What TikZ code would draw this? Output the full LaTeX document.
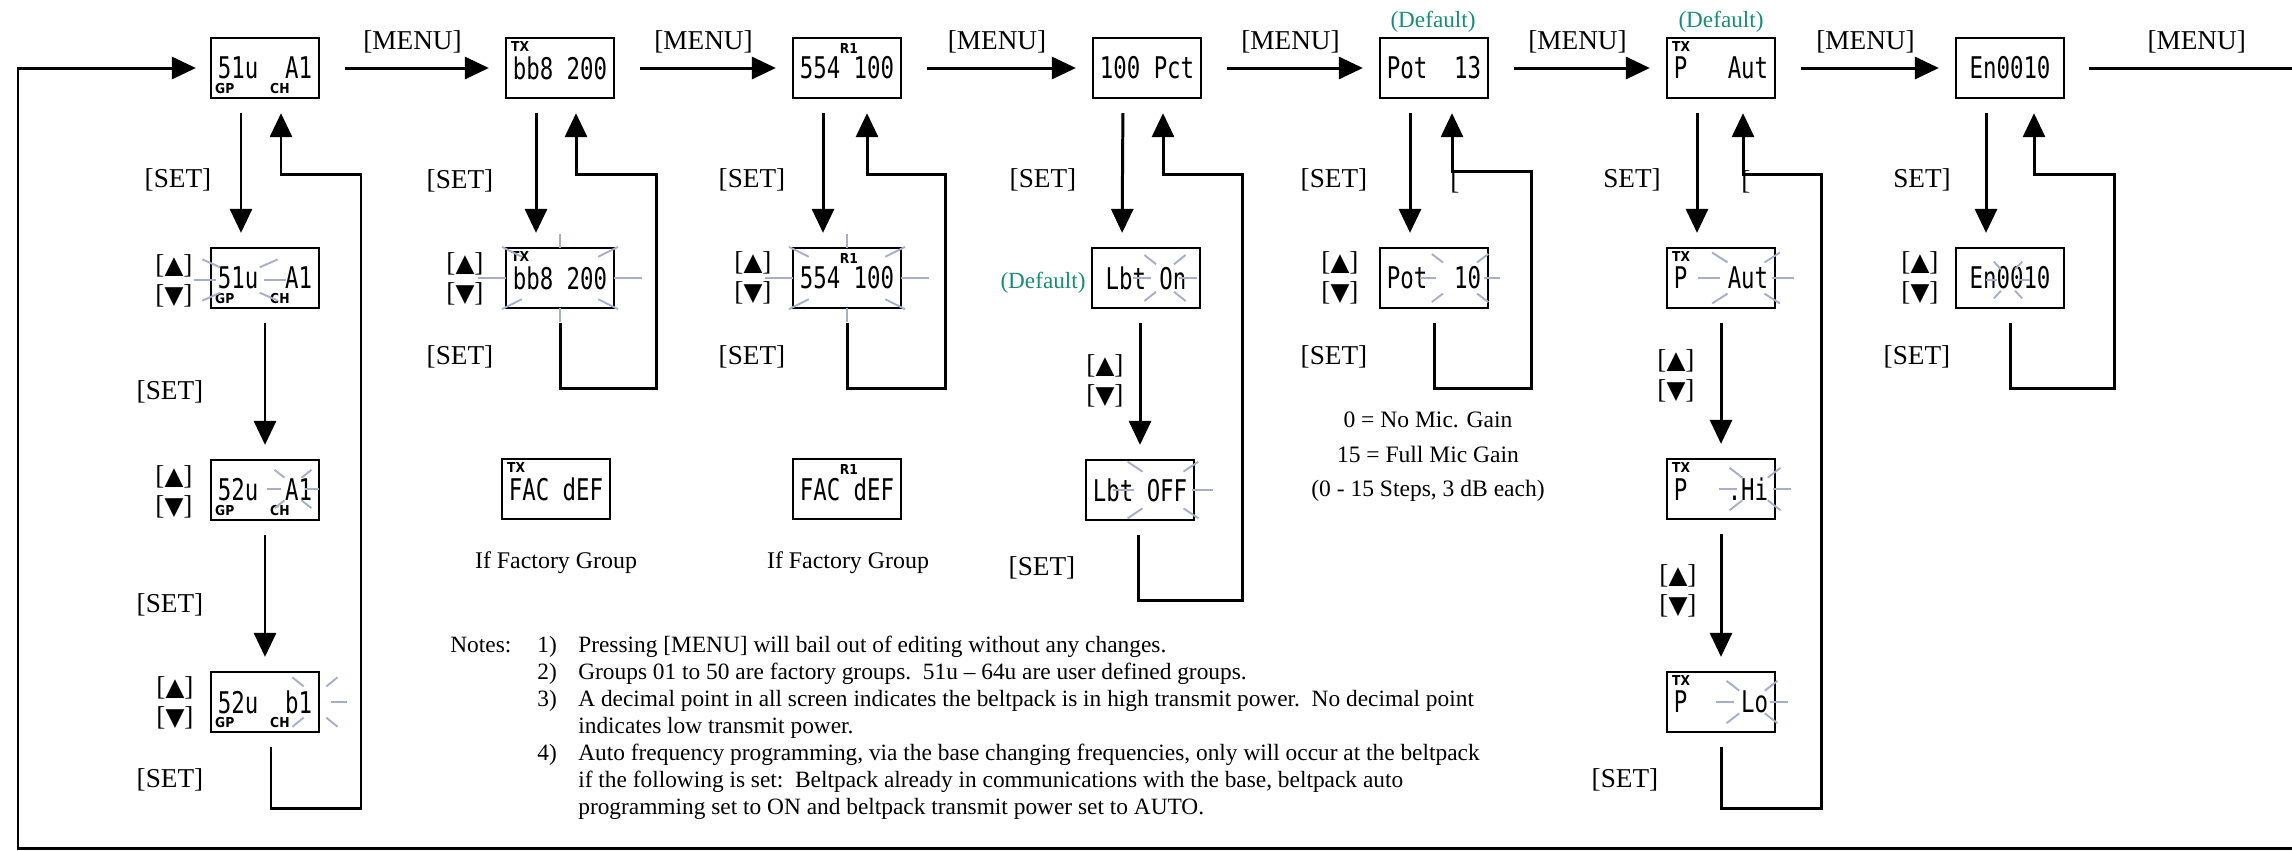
\documentclass[tikz,border=0pt]{standalone}
\usepackage{fontspec}
\setmainfont{Liberation Serif}
\newfontfamily\lcdfont[FakeStretch=0.75]{DejaVu Sans Mono}
\newfontfamily\lcdtagfont[FakeStretch=0.9]{DejaVu Sans}
\newfontfamily\arrowglyphs{DejaVu Sans}
\usepackage{tikz}
\usetikzlibrary{positioning,arrows.meta,calc}
\definecolor{defteal}{RGB}{25,140,120}
\definecolor{raygrey}{RGB}{165,176,200}
\newcommand\upk{{[}{\arrowglyphs\fontsize{14}{14}\selectfont ▲}{]}}
\newcommand\dnk{{[}{\arrowglyphs\fontsize{14}{14}\selectfont ▼}{]}}
\newcommand\flashrays[6]{%
  \foreach \a in {#6}{\draw[ray] ($#1+(\a:#2 and #3)$) -- ($#1+(\a:#4 and #5)$);}}

\begin{document}
\begin{tikzpicture}[x=0.02cm, y=-0.02cm,
    every node/.style={align=center},
    lcd/.style={draw, line width=1.3pt, minimum width=2.16cm, minimum height=1.2cm,
                inner sep=0pt, font=\lcdfont\fontsize{17}{17}\selectfont},
    lcdtag/.style={inner sep=0pt, font=\lcdtagfont\bfseries\fontsize{7.8}{8}\selectfont},
    wire/.style={line width=1.7pt},
    flow/.style={wire, -{Triangle[length=0.48cm,width=0.44cm]},
                 shorten <=0.28cm, shorten >=0.28cm},
    menuflow/.style={flow, shorten <=0.5cm, shorten >=0.32cm},
    menulbl/.style={above=0.26cm, inner sep=0pt, font=\fontsize{15.5}{18}\selectfont},
    btn/.style={inner sep=0pt, font=\fontsize{15.5}{18}\selectfont},
    updown/.style={inner sep=0pt, font=\fontsize{15.5}{17}\selectfont},
    dflt/.style={inner sep=0pt, text=defteal, font=\fontsize{13.2}{15}\selectfont},
    capt/.style={inner sep=0pt, font=\fontsize{13.6}{16}\selectfont},
    ray/.style={line width=1.1pt, raygrey}]
  \useasboundingbox (0,0) rectangle (2292,850);

  \node[lcd] (b1) at (265,68)  {51u\ \ A1};
  \node[lcd] (b2) at (560,68)  {bb8 200};
  \node[lcd] (b3) at (847,68)  {554 100};
  \node[lcd] (b4) at (1147,68) {100 Pct};
  \node[lcd] (b5) at (1434,68) {Pot\ \ 13};
  \node[lcd] (b6) at (1721,68) {P\ \ \ Aut};
  \node[lcd] (b7) at (2010,68) {En0010};

  \node[lcd] (c1) at (265,278)  {51u\ \ A1};
  \node[lcd] (c2) at (560,278)  {bb8 200};
  \node[lcd] (c3) at (847,278)  {554 100};
  \node[lcd] (c4) at (1146,278) {Lbt On};
  \node[lcd] (c5) at (1434,278) {Pot\ \ 10};
  \node[lcd] (c6) at (1721,278) {P\ \ \ Aut};
  \node[lcd] (c7) at (2010,278) {En0010};

  \node[lcd] (d1) at (265,490)  {52u\ \ A1};
  \node[lcd] (d2) at (556,489)  {FAC dEF};
  \node[lcd] (d3) at (847,489)  {FAC dEF};
  \node[lcd] (d4) at (1140,490) {Lbt OFF};
  \node[lcd] (d6) at (1721,489) {P\ \ \ .Hi};
  \node[lcd] (e1) at (265,702)  {52u\ \ b1};
  \node[lcd] (e6) at (1721,702) {P\ \ \ \ Lo};

  \node[lcdtag, anchor=south west] (b1gp) at ($(b1.south west)+(5,-5)$)  {GP};
  \node[lcdtag, anchor=south west] (b1ch) at ($(b1.south west)+(60,-5)$) {CH};
  \node[lcdtag, anchor=south west] (c1gp) at ($(c1.south west)+(5,-5)$)  {GP};
  \node[lcdtag, anchor=south west] (c1ch) at ($(c1.south west)+(60,-5)$) {CH};
  \node[lcdtag, anchor=south west] (d1gp) at ($(d1.south west)+(5,-5)$)  {GP};
  \node[lcdtag, anchor=south west] (d1ch) at ($(d1.south west)+(60,-5)$) {CH};
  \node[lcdtag, anchor=south west] (e1gp) at ($(e1.south west)+(5,-5)$)  {GP};
  \node[lcdtag, anchor=south west] (e1ch) at ($(e1.south west)+(60,-5)$) {CH};
  \node[lcdtag, anchor=north west] (b2tx) at ($(b2.north west)+(6,4)$) {TX};
  \node[lcdtag, anchor=north west] (c2tx) at ($(c2.north west)+(6,4)$) {TX};
  \node[lcdtag, anchor=north west] (d2tx) at ($(d2.north west)+(6,4)$) {TX};
  \node[lcdtag, anchor=north west] (b6tx) at ($(b6.north west)+(6,4)$) {TX};
  \node[lcdtag, anchor=north west] (c6tx) at ($(c6.north west)+(6,4)$) {TX};
  \node[lcdtag, anchor=north west] (d6tx) at ($(d6.north west)+(6,4)$) {TX};
  \node[lcdtag, anchor=north west] (e6tx) at ($(e6.north west)+(6,4)$) {TX};
  \node[lcdtag, anchor=north] (b3r1) at ($(b3.north)+(2,6)$) {R1};
  \node[lcdtag, anchor=north] (c3r1) at ($(c3.north)+(2,6)$) {R1};
  \node[lcdtag, anchor=north] (d3r1) at ($(d3.north)+(2,6)$) {R1};

  \coordinate (exitr) at (2292,68);
  \coordinate (exitb) at (2292,848);
  \coordinate (retbl) at (18,848);
  \coordinate (rettl) at (18,68);

  \draw[menuflow] (b1) -- node[menulbl]{[MENU]} (b2);
  \draw[menuflow] (b2) -- node[menulbl]{[MENU]} (b3);
  \draw[menuflow] (b3) -- node[menulbl]{[MENU]} (b4);
  \draw[menuflow] (b4) -- node[menulbl]{[MENU]} (b5);
  \draw[menuflow] (b5) -- node[menulbl]{[MENU]} (b6);
  \draw[menuflow] (b6) -- node[menulbl]{[MENU]} (b7);
  \draw[wire, shorten <=0.48cm] (b7) -- node[menulbl, pos=0.58]{[MENU]} (exitr);
  \draw[flow, shorten <=0pt] (exitb) -- (retbl) -- (rettl) -- (b1);

  \draw[flow] ($(b1.south)+(-24,0)$) -- ($(c1.north)+(-24,0)$);
  \draw[flow] ($(b2.south)+(-24,0)$) -- ($(c2.north)+(-24,0)$);
  \draw[flow] ($(b3.south)+(-24,0)$) -- ($(c3.north)+(-24,0)$);
  \draw[flow] ($(b4.south)+(-24,0)$) -- ($(c4.north)+(-24,0)$);
  \draw[flow] ($(b5.south)+(-24,0)$) -- ($(c5.north)+(-24,0)$);
  \draw[flow] ($(b6.south)+(-24,0)$) -- ($(c6.north)+(-24,0)$);
  \draw[flow] ($(b7.south)+(-24,0)$) -- ($(c7.north)+(-24,0)$);

  \draw[flow] (c1) -- (d1);
  \draw[flow] (d1) -- (e1);
  \draw[flow] (c4.south -| d4) -- (d4);
  \draw[flow] (c6) -- (d6);
  \draw[flow] (d6) -- (e6);

  \draw[flow] ($(e1.south)+(6,0)$) |- (361,808) |- ($(b1.south)+(16,75)$) -- ($(b1.south)+(16,0)$);
  \draw[flow] (c2.south) |- (656,388) |- ($(b2.south)+(16,75)$) -- ($(b2.south)+(16,0)$);
  \draw[flow] (c3.south) |- (945,388) |- ($(b3.south)+(20,75)$) -- ($(b3.south)+(20,0)$);
  \draw[flow] ($(d4.south)+(-2,0)$) |- (1242,600) |- ($(b4.south)+(16,75)$) -- ($(b4.south)+(16,0)$);
  \draw[flow] (c5.south) |- (1531,388) |- ($(b5.south)+(18,72)$) -- ($(b5.south)+(18,0)$);
  \draw[flow] (e6.south) |- (1821,808) |- ($(b6.south)+(22,75)$) -- ($(b6.south)+(22,0)$);
  \draw[flow] (c7.south) |- (2114,388) |- ($(b7.south)+(24,75)$) -- ($(b7.south)+(24,0)$);

  \flashrays{(c1)+(-25,2)}{24}{22}{46}{36}{0,35,145,180,215,325}
  \flashrays{(c2)}{54}{30}{82}{44}{0,45,...,315}
  \flashrays{(c3)}{54}{30}{82}{44}{0,45,...,315}
  \flashrays{(c4)+(19,0)}{14}{18}{32}{30}{0,50,130,180,230,310}
  \flashrays{(c5)+(26,0)}{24}{22}{40}{34}{0,45,135,180,225,315}
  \flashrays{(c6)+(25,0)}{26}{22}{48}{36}{0,45,135,180,225,315}
  \flashrays{(c7)+(-2,2)}{11}{14}{22}{24}{0,50,130,180,230,310}
  \flashrays{(d1)+(28,-1)}{12}{16}{26}{27}{0,45,135,180,225,315}
  \flashrays{(e1)+(50,0)}{16}{22}{32}{35}{0,45,135,225,315}
  \flashrays{(d4)+(23,0)}{29}{26}{50}{40}{0,45,135,180,225,315}
  \flashrays{(d6)+(34,0)}{18}{16}{36}{30}{0,45,135,180,225,315}
  \flashrays{(e6)+(31,0)}{18}{16}{36}{30}{0,45,135,180,225,315}

  \node[btn] (set1a) at (178,180)  {[SET]};
  \node[btn] (set1b) at (170,392)  {[SET]};
  \node[btn] (set1c) at (170,605)  {[SET]};
  \node[btn] (set1d) at (170,780)  {[SET]};
  \node[btn] (set2a) at (460,181)  {[SET]};
  \node[btn] (set2b) at (460,357)  {[SET]};
  \node[btn] (set3a) at (752,180)  {[SET]};
  \node[btn] (set3b) at (752,357)  {[SET]};
  \node[btn] (set4a) at (1043,180) {[SET]};
  \node[btn] (set4b) at (1042,568) {[SET]};
  \node[btn] (set5a) at (1334,180) {[SET]};
  \node[btn] (set5b) at (1334,357) {[SET]};
  \node[btn] (set6a) at (1632,180) {SET]};
  \node[btn] (set6b) at (1625,780) {[SET]};
  \node[btn] (set7a) at (1922,180) {SET]};
  \node[btn] (set7b) at (1917,357) {[SET]};
  \node[btn, anchor=west] (brk5) at (1450,182) {[};
  \node[btn, anchor=west] (brk6) at (1741,182) {[};

  \node[updown] (ud1a) at (174,281)  {\upk\\\dnk};
  \node[updown] (ud1b) at (174,492)  {\upk\\\dnk};
  \node[updown] (ud1c) at (175,703)  {\upk\\\dnk};
  \node[updown] (ud2)  at (465,279)  {\upk\\\dnk};
  \node[updown] (ud3)  at (753,278)  {\upk\\\dnk};
  \node[updown] (ud4)  at (1105,381) {\upk\\\dnk};
  \node[updown] (ud5)  at (1340,278) {\upk\\\dnk};
  \node[updown] (ud6a) at (1676,376) {\upk\\\dnk};
  \node[updown] (ud6b) at (1678,591) {\upk\\\dnk};
  \node[updown] (ud7)  at (1920,278) {\upk\\\dnk};

  \node[dflt] (dflt4) at (1043,283) {(Default)};
  \node[dflt] (dflt5) at (1433,22)  {(Default)};
  \node[dflt] (dflt6) at (1721,22)  {(Default)};

  \node[capt] (fac2) at (556,563) {If Factory Group};
  \node[capt] (fac3) at (848,563) {If Factory Group};
  \node[capt, font=\fontsize{13.4}{19.6}\selectfont] (gain) at (1428,457)
      {0 = No Mic. Gain\\15 = Full Mic Gain\\(0 - 15 Steps, 3 dB each)};

  \node[inner sep=0pt, anchor=north west, align=left, font=\fontsize{13.3}{15.4}\selectfont]
      (notes) at (450,633) {%
    \begin{tabular}{@{}p{1.74cm}@{}p{0.82cm}@{}l@{}}
      Notes: & 1) & Pressing [MENU] will bail out of editing without any changes.\\
             & 2) & Groups 01 to 50 are factory groups.\ \ 51u -- 64u are user defined groups.\\
             & 3) & A decimal point in all screen indicates the beltpack is in high transmit power.\ \ No decimal point\\
             &    & indicates low transmit power.\\
             & 4) & Auto frequency programming, via the base changing frequencies, only will occur at the beltpack\\
             &    & if the following is set:\ \ Beltpack already in communications with the base, beltpack auto\\
             &    & programming set to ON and beltpack transmit power set to AUTO.
    \end{tabular}};
\end{tikzpicture}
\end{document}
